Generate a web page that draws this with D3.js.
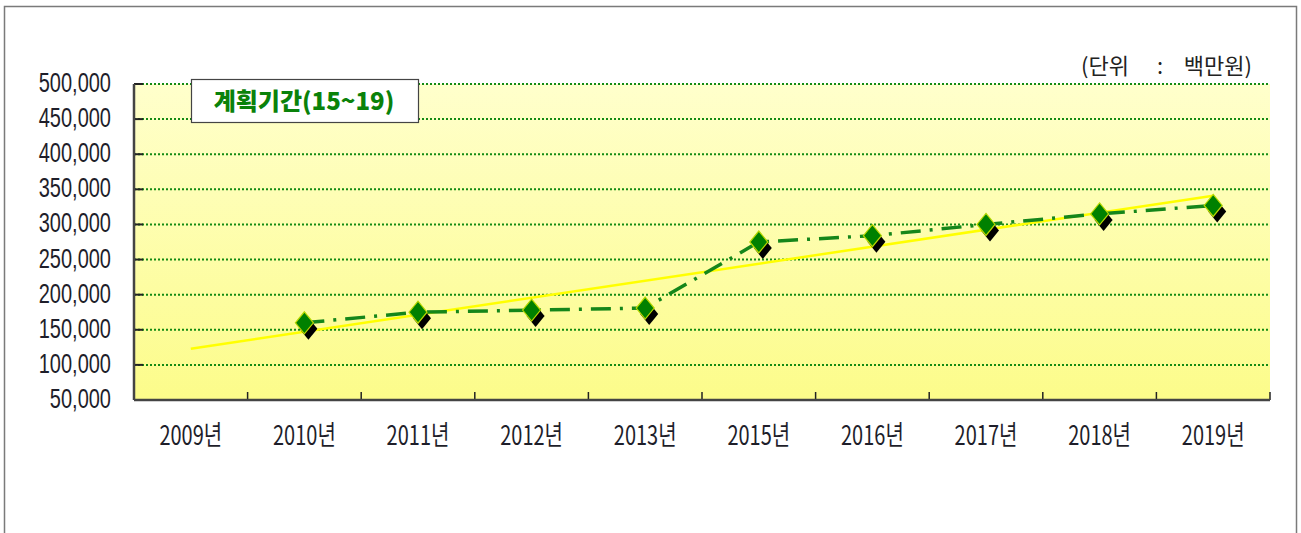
<!DOCTYPE html>
<html>
<head>
<meta charset="utf-8">
<script src="https://cdn.jsdelivr.net/npm/d3@7"></script>
<style>
  body { margin: 0; background: #fff; }
  svg { display: block; }
</style>
</head>
<body>
<div id="chart"></div>
<script>
// categories and values
var categories = ["2009년", "2010년", "2011년", "2012년", "2013년", "2015년", "2016년", "2017년", "2018년", "2019년"];
var seriesCats = ["2010년", "2011년", "2012년", "2013년", "2015년", "2016년", "2017년", "2018년", "2019년"];
var seriesValues = [160000, 175000, 178000, 181000, 275000, 284000, 300000, 315000, 327000];
var trendCats = ["2009년", "2019년"];
var trendValues = [123000, 341000];
var yTicks = [50000, 100000, 150000, 200000, 250000, 300000, 350000, 400000, 450000, 500000];
var titleText = "계획기간(15~19)";
var unitParts = ["(단위", ":", "백만원)"];

var W = 1301, H = 533;
var margin = { top: 84, right: 31, bottom: 133, left: 134 };
var width = W - margin.left - margin.right,
    height = H - margin.top - margin.bottom;

var svg = d3.select("#chart").append("svg")
  .attr("width", W)
  .attr("height", H);

// outer frame
svg.append("rect")
  .attr("x", 4.5).attr("y", 6.5)
  .attr("width", 1292).attr("height", 560)
  .attr("fill", "none")
  .attr("stroke", "#7a7a7a")
  .attr("stroke-width", 1.5);

var defs = svg.append("defs");
var grad = defs.append("linearGradient")
  .attr("id", "bg").attr("x1", 0).attr("y1", 0).attr("x2", 0).attr("y2", 1);
grad.append("stop").attr("offset", "0%").attr("stop-color", "#ffffcc");
grad.append("stop").attr("offset", "100%").attr("stop-color", "#fcfc8a");

var g = svg.append("g")
  .attr("transform", "translate(" + margin.left + "," + margin.top + ")");

var x = d3.scaleBand().domain(categories).range([0, width]);
var y = d3.scaleLinear().domain([50000, 500000]).range([height, 0]);
var cx = function(c) { return x(c) + x.bandwidth() / 2; };

g.append("rect")
  .attr("width", width).attr("height", height)
  .attr("fill", "url(#bg)");

// grid lines
g.selectAll(".grid").data(yTicks.slice(1)).enter().append("line")
  .attr("x1", 0).attr("x2", width)
  .attr("y1", function(d) { return y(d); })
  .attr("y2", function(d) { return y(d); })
  .attr("stroke", "#138a13")
  .attr("stroke-width", 2)
  .attr("stroke-dasharray", "2,2");

// inner ticks on the y axis
g.selectAll(".ytick").data(yTicks).enter().append("line")
  .attr("x1", 0).attr("x2", 9)
  .attr("y1", function(d) { return y(d); })
  .attr("y2", function(d) { return y(d); })
  .attr("stroke", "#222").attr("stroke-width", 2);

// inner ticks on the x axis (category boundaries)
var bounds = categories.map(function(c) { return x(c); }).slice(1).concat([width]);
g.selectAll(".xtick").data(bounds).enter().append("line")
  .attr("x1", function(d) { return d; }).attr("x2", function(d) { return d; })
  .attr("y1", height).attr("y2", height - 8)
  .attr("stroke", "#222").attr("stroke-width", 1.5);

// axis lines
g.append("line").attr("x1", 0).attr("x2", 0).attr("y1", 0).attr("y2", height)
  .attr("stroke", "#444").attr("stroke-width", 2.5);
g.append("line").attr("x1", 0).attr("x2", width).attr("y1", height).attr("y2", height)
  .attr("stroke", "#444").attr("stroke-width", 2.5);

// y labels
var fmt = d3.format(",");
g.selectAll(".ylab").data(yTicks).enter().append("text")
  .attr("transform", function(d) { return "translate(-23," + (y(d) + 8) + ") scale(1,1.35)"; })
  .attr("text-anchor", "end")
  .attr("font-family", "'Liberation Sans Narrow', 'Arial Narrow', sans-serif")
  .attr("font-size", 20)
  .attr("fill", "#1e1e2a")
  .text(function(d) { return fmt(d); });

// x labels
g.selectAll(".xlab").data(categories).enter().append("text")
  .attr("transform", function(d) { return "translate(" + cx(d) + "," + (height + 45) + ") scale(1,1.35)"; })
  .attr("text-anchor", "middle")
  .attr("font-family", "'Liberation Sans Narrow', 'Arial Narrow', 'Noto Sans CJK KR', sans-serif")
  .attr("font-size", 20)
  .attr("fill", "#1e1e2a")
  .text(function(d) { return d; });

// trend line
var trendLine = d3.line()
  .x(function(d, i) { return cx(trendCats[i]); })
  .y(function(d) { return y(d); });
g.append("path")
  .datum(trendValues)
  .attr("d", trendLine)
  .attr("fill", "none")
  .attr("stroke", "#ffff00")
  .attr("stroke-width", 2.5);

// series line
var line = d3.line()
  .x(function(d, i) { return cx(seriesCats[i]); })
  .y(function(d) { return y(d); });
g.append("path")
  .datum(seriesValues)
  .attr("d", line)
  .attr("fill", "none")
  .attr("stroke", "#15861a")
  .attr("stroke-width", 3.5)
  .attr("stroke-dasharray", "20,9,3,9");

// markers
var diamond = "M0,-11L9,0L0,11L-9,0Z";
var pts = g.selectAll(".pt").data(seriesValues).enter().append("g")
  .attr("transform", function(d, i) { return "translate(" + cx(seriesCats[i]) + "," + y(d) + ")"; });
pts.append("path")
  .attr("d", diamond)
  .attr("transform", "translate(4,6)")
  .attr("fill", "#000");
pts.append("path")
  .attr("d", diamond)
  .attr("fill", "#008000")
  .attr("stroke", "#b8d800")
  .attr("stroke-width", 1.2);

// title box
var box = svg.append("g");
box.append("rect")
  .attr("x", 191.5).attr("y", 79.5)
  .attr("width", 227).attr("height", 43)
  .attr("fill", "#fff")
  .attr("stroke", "#444").attr("stroke-width", 1.2);
box.append("text")
  .attr("x", 304).attr("y", 110)
  .attr("text-anchor", "middle")
  .attr("font-family", "'Noto Sans CJK KR', sans-serif")
  .attr("font-weight", 900)
  .attr("font-size", 24)
  .attr("fill", "#0a820a")
  .text(titleText);

// unit label
var unit = svg.append("g")
  .attr("font-family", "'Noto Sans CJK KR', serif")
  .attr("font-size", 22)
  .attr("fill", "#222");
unit.append("text").attr("x", 1081).attr("y", 74).text(unitParts[0]);
unit.append("text").attr("x", 1160).attr("y", 74).attr("text-anchor", "middle").text(unitParts[1]);
unit.append("text").attr("x", 1252).attr("y", 74).attr("text-anchor", "end").text(unitParts[2]);
</script>
</body>
</html>
